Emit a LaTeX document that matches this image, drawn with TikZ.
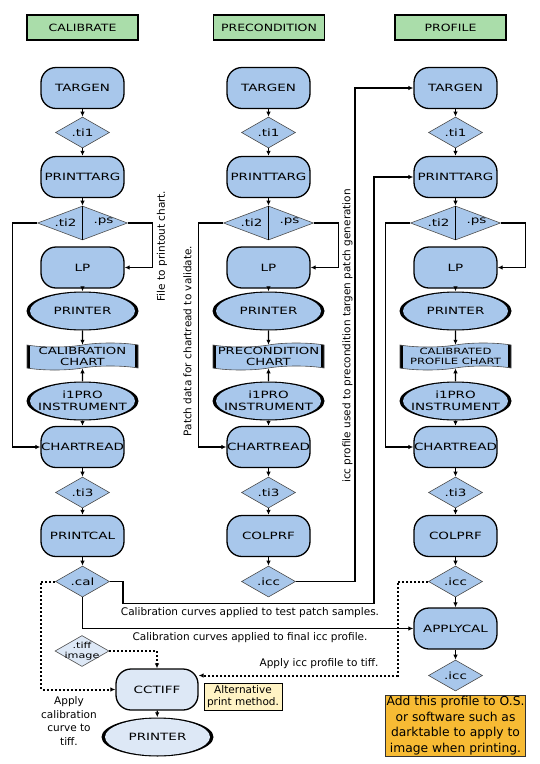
\documentclass[tikz,border=0pt]{standalone}
\usepackage{fontspec}
\setmainfont{DejaVu Sans}
\newfontfamily\boxfont[FakeStretch=1.35]{DejaVu Sans}
\newfontfamily\headfont[FakeStretch=1.25]{DejaVu Sans}
\usetikzlibrary{shapes.geometric,shapes.symbols,arrows.meta}
\definecolor{boxblue}{RGB}{168,199,235}
\definecolor{paleblue}{RGB}{221,232,246}
\definecolor{headgreen}{RGB}{170,221,170}
\definecolor{noteyellow}{RGB}{255,243,196}
\definecolor{noteorange}{RGB}{247,187,52}

\begin{document}
\begin{tikzpicture}[x=10pt,y=-10pt,>={Latex[length=5pt,width=4.5pt]},
        proc/.style={draw,line width=1.3pt,fill=boxblue,rounded corners=15pt,minimum width=83pt,minimum height=41pt,inner sep=0pt,font=\boxfont\fontsize{10}{12}\selectfont},
        file/.style={diamond,aspect=2,draw=black!70,line width=0.6pt,fill=boxblue,minimum width=54pt,minimum height=31pt,inner sep=0pt,font=\boxfont\fontsize{10}{12}\selectfont},
        tag/.style={inner sep=0pt,font=\boxfont\fontsize{10}{12}\selectfont},
        device/.style={ellipse,fill=black,minimum width=112pt,minimum height=39pt,inner xsep=-12pt,inner ysep=0pt,align=center,font=\boxfont\fontsize{10}{11.5}\selectfont,
            path picture={\fill[#1] (path picture bounding box.center) ellipse [x radius=52.5pt,y radius=18.4pt];}},
        device/.default=boxblue,
        chart/.style={tape,tape bend height=4pt,draw=black!70,line width=0.6pt,fill=boxblue,minimum width=111pt,minimum height=27pt,inner sep=0pt,align=center,font=\boxfont\fontsize{9.8}{11}\selectfont,
            path picture={\draw[black,line width=6pt] (path picture bounding box.north west) -- (path picture bounding box.south west) (path picture bounding box.north east) -- (path picture bounding box.south east);}},
        header/.style={draw,line width=1.2pt,fill=headgreen,minimum width=111pt,minimum height=25pt,font=\headfont\fontsize{10}{12}\selectfont},
        remark/.style={inner sep=0pt,align=center,font=\fontsize{10.5}{13.5}\selectfont},
        link/.style={line width=1.3pt,->},
        hint/.style={line width=2pt,dotted,->}]
        \useasboundingbox (0,0) rectangle (54,76.4);
        \node[header] (calhead) at (8.25,2.75) {CALIBRATE};
        \node[header] (prehead) at (26.9,2.75) {PRECONDITION};
        \node[header] (profhead) at (45.05,2.75) {PROFILE};
        \begin{scope}[xshift=82.5pt]
            \node[proc] (targenA) at (0,8.8) {TARGEN};
            \node[file] (ti1A) at (0,13.25) {.ti1};
            \node[proc] (printtargA) at (0,17.7) {PRINTTARG};
            \node[file,minimum width=90pt,minimum height=34pt] (splitA) at (0,22.3) {};
            \node[tag] (ti2A) at (-1.7,22.3) {.ti2};
            \node[tag] (psA) at (2.1,22.2) {.ps};
            \node[proc] (lpA) at (0,26.75) {LP};
            \node[device] (printerA) at (0,31.1) {PRINTER};
            \node[chart] (chartA) at (0,35.65) {CALIBRATION\\CHART};
            \node[device] (i1proA) at (0,40.1) {i1PRO\\INSTRUMENT};
            \node[proc] (chartreadA) at (0,44.7) {CHARTREAD};
            \node[file] (ti3A) at (0,49.25) {.ti3};
            \node[proc] (printcalA) at (0,53.6) {PRINTCAL};
            \node[file] (calA) at (0,58.15) {.cal};
            \draw[link] (targenA) -- (ti1A);
            \draw[link] (ti1A) -- (printtargA);
            \draw[link] (printtargA) -- (splitA);
            \draw[line width=0.6pt] (splitA.north) -- (splitA.south);
            \draw[link] (splitA.west) -- ++(-2.45,0) |- (chartreadA.west);
            \draw[link] (splitA.east) -- ++(2.45,0) |- (lpA.east);
            \draw[link] (lpA) -- (printerA);
            \draw[link] (printerA) -- (chartA);
            \draw[link] (i1proA) -- (chartA);
            \draw[link] (i1proA) -- (chartreadA);
            \draw[link] (chartreadA) -- (ti3A);
            \draw[link] (ti3A) -- (printcalA);
            \draw[link] (printcalA) -- (calA);
        \end{scope}
        \begin{scope}[xshift=268.5pt]
            \node[proc] (targenB) at (0,8.8) {TARGEN};
            \node[file] (ti1B) at (0,13.25) {.ti1};
            \node[proc] (printtargB) at (0,17.7) {PRINTTARG};
            \node[file,minimum width=90pt,minimum height=34pt] (splitB) at (0,22.3) {};
            \node[tag] (ti2B) at (-1.7,22.3) {.ti2};
            \node[tag] (psB) at (2.1,22.2) {.ps};
            \node[proc] (lpB) at (0,26.75) {LP};
            \node[device] (printerB) at (0,31.1) {PRINTER};
            \node[chart] (chartB) at (0,35.65) {PRECONDITION\\CHART};
            \node[device] (i1proB) at (0,40.1) {i1PRO\\INSTRUMENT};
            \node[proc] (chartreadB) at (0,44.7) {CHARTREAD};
            \node[file] (ti3B) at (0,49.25) {.ti3};
            \node[proc] (colprfB) at (0,53.6) {COLPRF};
            \node[file] (iccB) at (0,58.15) {.icc};
            \draw[link] (targenB) -- (ti1B);
            \draw[link] (ti1B) -- (printtargB);
            \draw[link] (printtargB) -- (splitB);
            \draw[line width=0.6pt] (splitB.north) -- (splitB.south);
            \draw[link] (splitB.west) -- ++(-2.45,0) |- (chartreadB.west);
            \draw[link] (splitB.east) -- ++(2.45,0) |- (lpB.east);
            \draw[link] (lpB) -- (printerB);
            \draw[link] (printerB) -- (chartB);
            \draw[link] (i1proB) -- (chartB);
            \draw[link] (i1proB) -- (chartreadB);
            \draw[link] (chartreadB) -- (ti3B);
            \draw[link] (ti3B) -- (colprfB);
            \draw[link] (colprfB) -- (iccB);
        \end{scope}
        \begin{scope}[xshift=455.5pt]
            \node[proc] (targenC) at (0,8.8) {TARGEN};
            \node[file] (ti1C) at (0,13.25) {.ti1};
            \node[proc] (printtargC) at (0,17.7) {PRINTTARG};
            \node[file,minimum width=90pt,minimum height=34pt] (splitC) at (0,22.3) {};
            \node[tag] (ti2C) at (-1.7,22.3) {.ti2};
            \node[tag] (psC) at (2.1,22.2) {.ps};
            \node[proc] (lpC) at (0,26.75) {LP};
            \node[device] (printerC) at (0,31.1) {PRINTER};
            \node[chart,font=\boxfont\fontsize{8.6}{10.5}\selectfont] (chartC) at (0,35.65) {CALIBRATED\\PROFILE CHART};
            \node[device] (i1proC) at (0,40.1) {i1PRO\\INSTRUMENT};
            \node[proc] (chartreadC) at (0,44.7) {CHARTREAD};
            \node[file] (ti3C) at (0,49.25) {.ti3};
            \node[proc] (colprfC) at (0,53.6) {COLPRF};
            \node[file] (iccC) at (0,58.15) {.icc};
            \node[proc] (applycalC) at (0,62.85) {APPLYCAL};
            \node[file] (finaliccC) at (0,67.55) {.icc};
            \node[draw=black!80,line width=0.8pt,fill=noteorange,minimum width=140pt,minimum height=61pt,inner sep=1pt,align=center,font=\fontsize{12.3}{15.5}\selectfont] (adviceC) at (0,72.55) {Add this profile to O.S.\\or software such as\\darktable to apply to\\image when printing.};
            \draw[link] (targenC) -- (ti1C);
            \draw[link] (ti1C) -- (printtargC);
            \draw[link] (printtargC) -- (splitC);
            \draw[line width=0.6pt] (splitC.north) -- (splitC.south);
            \draw[link] (splitC.west) -- ++(-2.45,0) |- (chartreadC.west);
            \draw[link] (splitC.east) -- ++(2.45,0) |- (lpC.east);
            \draw[link] (lpC) -- (printerC);
            \draw[link] (printerC) -- (chartC);
            \draw[link] (i1proC) -- (chartC);
            \draw[link] (i1proC) -- (chartreadC);
            \draw[link] (chartreadC) -- (ti3C);
            \draw[link] (ti3C) -- (colprfC);
            \draw[link] (colprfC) -- (iccC);
            \draw[link] (iccC) -- (applycalC);
            \draw[link] (applycalC) -- (finaliccC);
        \end{scope}
        % tiff printing path
        \node[file,fill=paleblue] (tiff) at (8.2,65.1) {};
        \node[tag,align=center,font=\boxfont\fontsize{8.3}{9.5}\selectfont] (tifftext) at (8.2,65.1) {.tiff\\image};
        \node[proc,fill=paleblue,minimum width=82pt] (cctiff) at (15.7,68.95) {CCTIFF};
        \node[device=paleblue] (printerD) at (15.75,73.7) {PRINTER};
        \node[draw,line width=1pt,fill=noteyellow,minimum width=78pt,minimum height=27pt,inner sep=1pt,align=center,font=\fontsize{10.5}{12.5}\selectfont] (altnote) at (24.3,69.65) {Alternative\\print method.};
        \draw[link] (cctiff) -- (printerD);
        \draw[hint] (tiff.east) -| (cctiff.north);
        \draw[hint] (calA.west) -| (4.1,68.95) -- (cctiff.west);
        \draw[hint] (iccC.west) -| (39.8,67.55) -- (cctiff.east |- 39.8,67.55);
        % links between columns
        \draw[link] (calA.east) -| (12.3,60.35) -| (37.4,17.7) -- (printtargC.west);
        \draw[link] (calA.south) |- (applycalC.west);
        \draw[link] (iccB.east) -| (35.5,8.8) -- (targenC.west);
        \node[remark] (testlbl) at (25.0,61.3) {Calibration curves applied to test patch samples.};
        \node[remark] (finallbl) at (25.0,63.8) {Calibration curves applied to final icc profile.};
        \node[remark] (tifflbl) at (31.9,66.4) {Apply icc profile to tiff.};
        \node[remark] (curvelbl) at (6.9,72.1) {Apply\\calibration\\curve to\\tiff.};
        \node[remark,rotate=90] (printlbl) at (16.2,24.6) {File to printout chart.};
        \node[remark,rotate=90] (patchlbl) at (18.75,34.1) {Patch data for chartread to validate.};
        \node[remark,rotate=90] (icclbl) at (34.75,33.6) {icc profile used to precondition targen patch generation};
    \end{tikzpicture}
\end{document}
